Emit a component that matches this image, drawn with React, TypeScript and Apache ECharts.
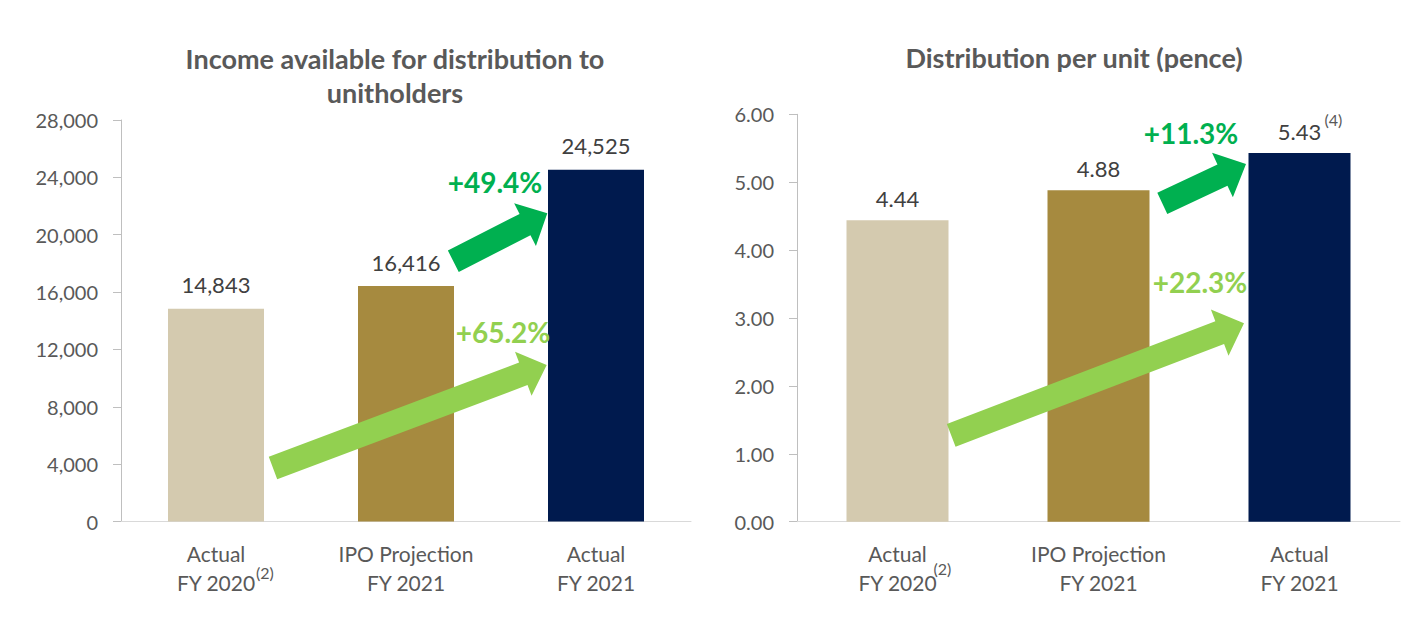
import React, { useEffect, useRef } from "react";
import * as echarts from "echarts";

// Categories shared by both panels
const categories = ["Actual\nFY 2020", "IPO Projection\nFY 2021", "Actual\nFY 2021"];
const barColors = ["#D4CAAF", "#A68A3F", "#001A4E"];

// Income available for distribution to unitholders
const incomeTitle = "Income available for distribution to\nunitholders";
const incomeValues = [14843, 16416, 24525];
const incomeAxis = { min: 0, max: 28000, interval: 4000 };
const incomeGrowth = ["+49.4%", "+65.2%"];

// Distribution per unit (pence)
const dpuTitle = "Distribution per unit (pence)";
const dpuValues = [4.44, 4.88, 5.43];
const dpuAxis = { min: 0, max: 6, interval: 1 };
const dpuGrowth = ["+11.3%", "+22.3%"];

// Footnote markers
const footnoteFY2020 = "(2)";
const footnoteDpu2021 = "(4)";

const FONT = "Lato, 'Noto Sans', sans-serif";
const AXIS_TEXT = "#595959";
const VALUE_TEXT = "#404040";
const DARK_GREEN = "#00B050";
const LIGHT_GREEN = "#92D050";

function arrowPoints(
  x0: number, y0: number, x1: number, y1: number,
  w: number, hl: number, hw: number
) {
  const dx = x1 - x0;
  const dy = y1 - y0;
  const L = Math.hypot(dx, dy);
  const ux = dx / L, uy = dy / L;
  const nx = -uy, ny = ux;
  const bx = x1 - ux * hl, by = y1 - uy * hl;
  return [
    [x0 + (nx * w) / 2, y0 + (ny * w) / 2],
    [bx + (nx * w) / 2, by + (ny * w) / 2],
    [bx + (nx * hw) / 2, by + (ny * hw) / 2],
    [x1, y1],
    [bx - (nx * hw) / 2, by - (ny * hw) / 2],
    [bx - (nx * w) / 2, by - (ny * w) / 2],
    [x0 - (nx * w) / 2, y0 - (ny * w) / 2],
  ];
}

function arrow(pts: number[], color: string) {
  const [x0, y0, x1, y1, w, hl, hw] = pts;
  return {
    type: "polygon",
    shape: { points: arrowPoints(x0, y0, x1, y1, w, hl, hw) },
    style: { fill: color },
    z: 10,
  };
}

function growthText(text: string, x: number, y: number, color: string) {
  return {
    type: "text",
    x,
    y,
    z: 11,
    style: {
      text,
      fill: color,
      font: `bold 28px ${FONT}`,
      textAlign: "center",
      textVerticalAlign: "middle",
    },
  };
}

function footnote(text: string, x: number, y: number) {
  return {
    type: "text",
    x,
    y,
    style: {
      text,
      fill: AXIS_TEXT,
      font: `16px ${FONT}`,
      textAlign: "left",
      textVerticalAlign: "middle",
    },
  };
}

export default function App() {
  const ref = useRef<HTMLDivElement>(null);

  useEffect(() => {
    if (!ref.current) return;
    const chart = echarts.init(ref.current, undefined, { renderer: "svg" });

    const axisLineStyle = { lineStyle: { color: "#BFBFBF", width: 1 } };
    const catAxis = (gridIndex: number) => ({
      type: "category",
      gridIndex,
      data: categories,
      axisLine: { show: true, lineStyle: { color: "#D9D9D9", width: 1 } },
      axisTick: { show: false },
      axisLabel: {
        color: AXIS_TEXT,
        fontFamily: FONT,
        fontSize: 21,
        lineHeight: 29,
        margin: 17,
        interval: 0,
      },
    });

    chart.setOption({
      animation: false,
      backgroundColor: "#FFFFFF",
      grid: [
        { left: 121, top: 120, width: 570, height: 401.5, containLabel: false },
        { left: 797, top: 114.3, width: 603, height: 407.4, containLabel: false },
      ],
      xAxis: [catAxis(0), catAxis(1)],
      yAxis: [
        {
          type: "value",
          gridIndex: 0,
          ...incomeAxis,
          splitLine: { show: false },
          axisLine: { show: true, ...axisLineStyle },
          axisTick: { show: true, length: 8, ...axisLineStyle },
          axisLabel: {
            color: AXIS_TEXT,
            fontFamily: FONT,
            fontSize: 20,
            margin: 23,
            formatter: (v: number) => v.toLocaleString("en-US"),
          },
        },
        {
          type: "value",
          gridIndex: 1,
          ...dpuAxis,
          splitLine: { show: false },
          axisLine: { show: true, ...axisLineStyle },
          axisTick: { show: true, length: 8, ...axisLineStyle },
          axisLabel: {
            color: AXIS_TEXT,
            fontFamily: FONT,
            fontSize: 20,
            margin: 23,
            formatter: (v: number) => v.toFixed(2),
          },
        },
      ],
      series: [
        {
          type: "bar",
          xAxisIndex: 0,
          yAxisIndex: 0,
          barWidth: 96,
          data: incomeValues.map((v, i) => ({ value: v, itemStyle: { color: barColors[i] } })),
          label: {
            show: true,
            position: "top",
            distance: 13,
            color: VALUE_TEXT,
            fontFamily: FONT,
            fontSize: 22,
            formatter: (p: any) => Number(p.value).toLocaleString("en-US"),
          },
        },
        {
          type: "bar",
          xAxisIndex: 1,
          yAxisIndex: 1,
          barWidth: 102,
          data: dpuValues.map((v, i) => ({ value: v, itemStyle: { color: barColors[i] } })),
          label: {
            show: true,
            position: "top",
            distance: 11,
            color: VALUE_TEXT,
            fontFamily: FONT,
            fontSize: 22,
            formatter: (p: any) => Number(p.value).toFixed(2),
          },
        },
      ],
    });

    // Positions derived from the axes for the footnote markers
    const leftCat0 = chart.convertToPixel({ xAxisIndex: 0 }, 0) as number;
    const rightCat0 = chart.convertToPixel({ xAxisIndex: 1 }, 0) as number;
    const rightCat2 = chart.convertToPixel({ xAxisIndex: 1 }, 2) as number;
    const leftBase = chart.convertToPixel({ yAxisIndex: 0 }, 0) as number;
    const rightBase = chart.convertToPixel({ yAxisIndex: 1 }, 0) as number;
    const dpuTop = chart.convertToPixel({ yAxisIndex: 1 }, dpuValues[2]) as number;

    chart.setOption({
      graphic: [
        {
          type: "text",
          x: 395,
          y: 75,
          style: {
            text: incomeTitle,
            fill: AXIS_TEXT,
            font: `bold 27px ${FONT}`,
            lineHeight: 34,
            textAlign: "center",
            textVerticalAlign: "middle",
          },
        },
        {
          type: "text",
          x: 1074,
          y: 57,
          style: {
            text: dpuTitle,
            fill: AXIS_TEXT,
            font: `bold 27px ${FONT}`,
            textAlign: "center",
            textVerticalAlign: "middle",
          },
        },
        // Left panel growth arrows
        arrow([453.3, 261.2, 547.3, 213.3, 24, 25, 48], DARK_GREEN),
        arrow([273, 468, 546.7, 365, 24, 25, 47], LIGHT_GREEN),
        growthText(incomeGrowth[0], 495, 182, DARK_GREEN),
        growthText(incomeGrowth[1], 503, 332, LIGHT_GREEN),
        // Right panel growth arrows
        arrow([1162.3, 203.3, 1246, 164, 23.5, 26, 49], DARK_GREEN),
        arrow([951.2, 435.3, 1244, 323.3, 24.4, 26, 49.4], LIGHT_GREEN),
        growthText(dpuGrowth[0], 1191, 133, DARK_GREEN),
        growthText(dpuGrowth[1], 1200, 282, LIGHT_GREEN),
        // Footnote markers
        footnote(footnoteFY2020, leftCat0 + 40, leftBase + 51),
        footnote(footnoteFY2020, rightCat0 + 36, rightBase + 47),
        footnote(footnoteDpu2021, rightCat2 + 25, dpuTop - 34),
      ],
    });

    return () => chart.dispose();
  }, []);

  return (
    <div
      ref={ref}
      style={{ position: "absolute", left: 0, top: 0, width: 1425, height: 622 }}
    />
  );
}
